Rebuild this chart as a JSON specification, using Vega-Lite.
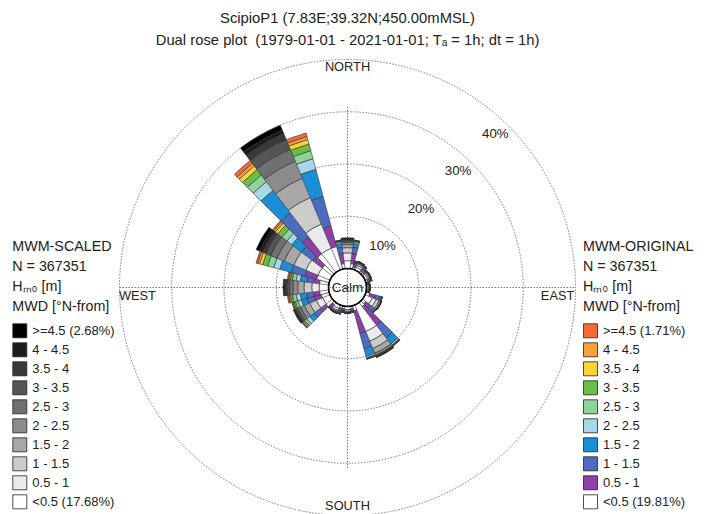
{
"$schema":"https://vega.github.io/schema/vega-lite/v6.json",
"autosize":"none",
"width":456,"height":452,
"padding":{"left":119.5,"top":61.5,"right":130.5,"bottom":0},
"background":"white",
"config":{"font":"Liberation Sans","view":{"stroke":null}},
"title":{"text":["ScipioP1 (7.83E;39.32N;450.00mMSL)","Dual rose plot \u00a0(1979-01-01 - 2021-01-01; Tₐ = 1h; dt = 1h)"],"fontSize":14.8,"fontWeight":"normal","color":"#222","anchor":"middle","frame":"group","offset":10,"lineHeight":22},
"datasets":{
"grid":[{"r":10},{"r":20},{"r":30},{"r":40}],
"axes":[{"x":-40,"x2":40,"y":0,"y2":0},{"x":0,"x2":0,"y":-40,"y2":40}],
"calm":[{"r":0,"t":"Calm"}],
"pct":[{"t":"10%","a":40,"r":6.8},{"t":"20%","a":43,"r":17},{"t":"30%","a":43.5,"r":27.1},{"t":"40%","a":44,"r":37.1}],
"dirs":[{"t":"NORTH","a":0,"r":38.5},{"t":"SOUTH","a":180,"r":38.2},{"t":"WEST","a":267.7,"r":36.6},{"t":"EAST","a":92.3,"r":36.6}],
"o":[
{"t0":-15,"t1":15,"b":"<0.5 (19.81%)","r0":0,"r1":1.0},
{"t0":-15,"t1":15,"b":"0.5 - 1","r0":1.0,"r1":3.0},
{"t0":-15,"t1":15,"b":"1 - 1.5","r0":3.0,"r1":4.2},
{"t0":-15,"t1":15,"b":"1.5 - 2","r0":4.2,"r1":4.9},
{"t0":-15,"t1":15,"b":"2 - 2.5","r0":4.9,"r1":5.2},
{"t0":-15,"t1":15,"b":"2.5 - 3","r0":5.2,"r1":5.3},
{"t0":-15,"t1":15,"b":"3 - 3.5","r0":5.3,"r1":5.4},
{"t0":-15,"t1":15,"b":"3.5 - 4","r0":5.4,"r1":5.45},
{"t0":-15,"t1":15,"b":"4 - 4.5","r0":5.45,"r1":5.5},
{"t0":-15,"t1":15,"b":">=4.5 (1.71%)","r0":5.5,"r1":5.55},
{"t0":15,"t1":45,"b":"<0.5 (19.81%)","r0":0,"r1":0.4},
{"t0":15,"t1":45,"b":"0.5 - 1","r0":0.4,"r1":1.0},
{"t0":15,"t1":45,"b":"1 - 1.5","r0":1.0,"r1":1.3},
{"t0":15,"t1":45,"b":"1.5 - 2","r0":1.3,"r1":1.45},
{"t0":15,"t1":45,"b":"2 - 2.5","r0":1.45,"r1":1.5},
{"t0":15,"t1":45,"b":"2.5 - 3","r0":1.5,"r1":1.55},
{"t0":15,"t1":45,"b":"3 - 3.5","r0":1.55,"r1":1.58},
{"t0":15,"t1":45,"b":"3.5 - 4","r0":1.58,"r1":1.6},
{"t0":15,"t1":45,"b":"4 - 4.5","r0":1.6,"r1":1.62},
{"t0":15,"t1":45,"b":">=4.5 (1.71%)","r0":1.62,"r1":1.65},
{"t0":45,"t1":75,"b":"<0.5 (19.81%)","r0":0,"r1":0.4},
{"t0":45,"t1":75,"b":"0.5 - 1","r0":0.4,"r1":0.8},
{"t0":45,"t1":75,"b":"1 - 1.5","r0":0.8,"r1":1.0},
{"t0":45,"t1":75,"b":"1.5 - 2","r0":1.0,"r1":1.1},
{"t0":45,"t1":75,"b":"2 - 2.5","r0":1.1,"r1":1.13},
{"t0":45,"t1":75,"b":"2.5 - 3","r0":1.13,"r1":1.16},
{"t0":45,"t1":75,"b":"3 - 3.5","r0":1.16,"r1":1.18},
{"t0":45,"t1":75,"b":"3.5 - 4","r0":1.18,"r1":1.2},
{"t0":45,"t1":75,"b":"4 - 4.5","r0":1.2,"r1":1.22},
{"t0":45,"t1":75,"b":">=4.5 (1.71%)","r0":1.22,"r1":1.25},
{"t0":75,"t1":105,"b":"<0.5 (19.81%)","r0":0,"r1":0.2},
{"t0":75,"t1":105,"b":"0.5 - 1","r0":0.2,"r1":0.45},
{"t0":75,"t1":105,"b":"1 - 1.5","r0":0.45,"r1":0.55},
{"t0":75,"t1":105,"b":"1.5 - 2","r0":0.55,"r1":0.6},
{"t0":75,"t1":105,"b":"2 - 2.5","r0":0.6,"r1":0.62},
{"t0":75,"t1":105,"b":"2.5 - 3","r0":0.62,"r1":0.64},
{"t0":75,"t1":105,"b":"3 - 3.5","r0":0.64,"r1":0.66},
{"t0":75,"t1":105,"b":"3.5 - 4","r0":0.66,"r1":0.68},
{"t0":75,"t1":105,"b":"4 - 4.5","r0":0.68,"r1":0.7},
{"t0":75,"t1":105,"b":">=4.5 (1.71%)","r0":0.7,"r1":0.72},
{"t0":105,"t1":135,"b":"<0.5 (19.81%)","r0":0,"r1":0.8},
{"t0":105,"t1":135,"b":"0.5 - 1","r0":0.8,"r1":2.0},
{"t0":105,"t1":135,"b":"1 - 1.5","r0":2.0,"r1":2.8},
{"t0":105,"t1":135,"b":"1.5 - 2","r0":2.8,"r1":3.1},
{"t0":105,"t1":135,"b":"2 - 2.5","r0":3.1,"r1":3.2},
{"t0":105,"t1":135,"b":"2.5 - 3","r0":3.2,"r1":3.22},
{"t0":105,"t1":135,"b":"3 - 3.5","r0":3.22,"r1":3.24},
{"t0":105,"t1":135,"b":"3.5 - 4","r0":3.24,"r1":3.26},
{"t0":105,"t1":135,"b":"4 - 4.5","r0":3.26,"r1":3.28},
{"t0":105,"t1":135,"b":">=4.5 (1.71%)","r0":3.28,"r1":3.3},
{"t0":135,"t1":165,"b":"<0.5 (19.81%)","r0":0,"r1":1.0},
{"t0":135,"t1":165,"b":"0.5 - 1","r0":1.0,"r1":5.5},
{"t0":135,"t1":165,"b":"1 - 1.5","r0":5.5,"r1":8.5},
{"t0":135,"t1":165,"b":"1.5 - 2","r0":8.5,"r1":10.0},
{"t0":135,"t1":165,"b":"2 - 2.5","r0":10.0,"r1":10.3},
{"t0":135,"t1":165,"b":"2.5 - 3","r0":10.3,"r1":10.4},
{"t0":135,"t1":165,"b":"3 - 3.5","r0":10.4,"r1":10.45},
{"t0":135,"t1":165,"b":"3.5 - 4","r0":10.45,"r1":10.5},
{"t0":135,"t1":165,"b":"4 - 4.5","r0":10.5,"r1":10.55},
{"t0":135,"t1":165,"b":">=4.5 (1.71%)","r0":10.55,"r1":10.6},
{"t0":165,"t1":195,"b":"<0.5 (19.81%)","r0":0,"r1":0.5},
{"t0":165,"t1":195,"b":"0.5 - 1","r0":0.5,"r1":0.85},
{"t0":165,"t1":195,"b":"1 - 1.5","r0":0.85,"r1":1.0},
{"t0":165,"t1":195,"b":"1.5 - 2","r0":1.0,"r1":1.1},
{"t0":165,"t1":195,"b":"2 - 2.5","r0":1.1,"r1":1.15},
{"t0":165,"t1":195,"b":"2.5 - 3","r0":1.15,"r1":1.18},
{"t0":165,"t1":195,"b":"3 - 3.5","r0":1.18,"r1":1.2},
{"t0":165,"t1":195,"b":"3.5 - 4","r0":1.2,"r1":1.22},
{"t0":165,"t1":195,"b":"4 - 4.5","r0":1.22,"r1":1.24},
{"t0":165,"t1":195,"b":">=4.5 (1.71%)","r0":1.24,"r1":1.26},
{"t0":195,"t1":225,"b":"<0.5 (19.81%)","r0":0,"r1":0.5},
{"t0":195,"t1":225,"b":"0.5 - 1","r0":0.5,"r1":1.0},
{"t0":195,"t1":225,"b":"1 - 1.5","r0":1.0,"r1":1.3},
{"t0":195,"t1":225,"b":"1.5 - 2","r0":1.3,"r1":1.45},
{"t0":195,"t1":225,"b":"2 - 2.5","r0":1.45,"r1":1.5},
{"t0":195,"t1":225,"b":"2.5 - 3","r0":1.5,"r1":1.55},
{"t0":195,"t1":225,"b":"3 - 3.5","r0":1.55,"r1":1.6},
{"t0":195,"t1":225,"b":"3.5 - 4","r0":1.6,"r1":1.63},
{"t0":195,"t1":225,"b":"4 - 4.5","r0":1.63,"r1":1.66},
{"t0":195,"t1":225,"b":">=4.5 (1.71%)","r0":1.66,"r1":1.7},
{"t0":225,"t1":255,"b":"<0.5 (19.81%)","r0":0,"r1":1.6},
{"t0":225,"t1":255,"b":"0.5 - 1","r0":1.6,"r1":3.0},
{"t0":225,"t1":255,"b":"1 - 1.5","r0":3.0,"r1":4.4},
{"t0":225,"t1":255,"b":"1.5 - 2","r0":4.4,"r1":5.5},
{"t0":225,"t1":255,"b":"2 - 2.5","r0":5.5,"r1":6.2},
{"t0":225,"t1":255,"b":"2.5 - 3","r0":6.2,"r1":6.7},
{"t0":225,"t1":255,"b":"3 - 3.5","r0":6.7,"r1":7.0},
{"t0":225,"t1":255,"b":"3.5 - 4","r0":7.0,"r1":7.2},
{"t0":225,"t1":255,"b":"4 - 4.5","r0":7.2,"r1":7.3},
{"t0":225,"t1":255,"b":">=4.5 (1.71%)","r0":7.3,"r1":7.4},
{"t0":255,"t1":285,"b":"<0.5 (19.81%)","r0":0,"r1":1.8},
{"t0":255,"t1":285,"b":"0.5 - 1","r0":1.8,"r1":3.0},
{"t0":255,"t1":285,"b":"1 - 1.5","r0":3.0,"r1":4.3},
{"t0":255,"t1":285,"b":"1.5 - 2","r0":4.3,"r1":5.5},
{"t0":255,"t1":285,"b":"2 - 2.5","r0":5.5,"r1":6.3},
{"t0":255,"t1":285,"b":"2.5 - 3","r0":6.3,"r1":7.0},
{"t0":255,"t1":285,"b":"3 - 3.5","r0":7.0,"r1":7.4},
{"t0":255,"t1":285,"b":"3.5 - 4","r0":7.4,"r1":7.6},
{"t0":255,"t1":285,"b":"4 - 4.5","r0":7.6,"r1":7.8},
{"t0":255,"t1":285,"b":">=4.5 (1.71%)","r0":7.8,"r1":8.0},
{"t0":285,"t1":315,"b":"<0.5 (19.81%)","r0":0,"r1":2.5},
{"t0":285,"t1":315,"b":"0.5 - 1","r0":2.5,"r1":4.8},
{"t0":285,"t1":315,"b":"1 - 1.5","r0":4.8,"r1":7.5},
{"t0":285,"t1":315,"b":"1.5 - 2","r0":7.5,"r1":9.8},
{"t0":285,"t1":315,"b":"2 - 2.5","r0":9.8,"r1":11.0},
{"t0":285,"t1":315,"b":"2.5 - 3","r0":11.0,"r1":12.2},
{"t0":285,"t1":315,"b":"3 - 3.5","r0":12.2,"r1":13.2},
{"t0":285,"t1":315,"b":"3.5 - 4","r0":13.2,"r1":13.8},
{"t0":285,"t1":315,"b":"4 - 4.5","r0":13.8,"r1":14.2},
{"t0":285,"t1":315,"b":">=4.5 (1.71%)","r0":14.2,"r1":14.5},
{"t0":315,"t1":345,"b":"<0.5 (19.81%)","r0":0,"r1":4.5},
{"t0":315,"t1":345,"b":"0.5 - 1","r0":4.5,"r1":8.6},
{"t0":315,"t1":345,"b":"1 - 1.5","r0":8.6,"r1":14.4},
{"t0":315,"t1":345,"b":"1.5 - 2","r0":14.4,"r1":19.8},
{"t0":315,"t1":345,"b":"2 - 2.5","r0":19.8,"r1":21.9},
{"t0":315,"t1":345,"b":"2.5 - 3","r0":21.9,"r1":23.5},
{"t0":315,"t1":345,"b":"3 - 3.5","r0":23.5,"r1":24.8},
{"t0":315,"t1":345,"b":"3.5 - 4","r0":24.8,"r1":25.7},
{"t0":315,"t1":345,"b":"4 - 4.5","r0":25.7,"r1":26.3},
{"t0":315,"t1":345,"b":">=4.5 (1.71%)","r0":26.3,"r1":27.0}
],
"s":[
{"t0":-7.5,"t1":7.5,"b":"<0.5 (17.68%)","r0":0,"r1":1.5},
{"t0":-7.5,"t1":7.5,"b":"0.5 - 1","r0":1.5,"r1":3.0},
{"t0":-7.5,"t1":7.5,"b":"1 - 1.5","r0":3.0,"r1":4.0},
{"t0":-7.5,"t1":7.5,"b":"1.5 - 2","r0":4.0,"r1":4.6},
{"t0":-7.5,"t1":7.5,"b":"2 - 2.5","r0":4.6,"r1":5.0},
{"t0":-7.5,"t1":7.5,"b":"2.5 - 3","r0":5.0,"r1":5.3},
{"t0":-7.5,"t1":7.5,"b":"3 - 3.5","r0":5.3,"r1":5.5},
{"t0":-7.5,"t1":7.5,"b":"3.5 - 4","r0":5.5,"r1":5.65},
{"t0":-7.5,"t1":7.5,"b":"4 - 4.5","r0":5.65,"r1":5.75},
{"t0":-7.5,"t1":7.5,"b":">=4.5 (2.68%)","r0":5.75,"r1":5.9},
{"t0":22.5,"t1":37.5,"b":"<0.5 (17.68%)","r0":0,"r1":0.6},
{"t0":22.5,"t1":37.5,"b":"0.5 - 1","r0":0.6,"r1":1.0},
{"t0":22.5,"t1":37.5,"b":"1 - 1.5","r0":1.0,"r1":1.3},
{"t0":22.5,"t1":37.5,"b":"1.5 - 2","r0":1.3,"r1":1.5},
{"t0":22.5,"t1":37.5,"b":"2 - 2.5","r0":1.5,"r1":1.6},
{"t0":22.5,"t1":37.5,"b":"2.5 - 3","r0":1.6,"r1":1.65},
{"t0":22.5,"t1":37.5,"b":"3 - 3.5","r0":1.65,"r1":1.7},
{"t0":22.5,"t1":37.5,"b":"3.5 - 4","r0":1.7,"r1":1.73},
{"t0":22.5,"t1":37.5,"b":"4 - 4.5","r0":1.73,"r1":1.76},
{"t0":22.5,"t1":37.5,"b":">=4.5 (2.68%)","r0":1.76,"r1":1.8},
{"t0":52.5,"t1":67.5,"b":"<0.5 (17.68%)","r0":0,"r1":0.5},
{"t0":52.5,"t1":67.5,"b":"0.5 - 1","r0":0.5,"r1":0.8},
{"t0":52.5,"t1":67.5,"b":"1 - 1.5","r0":0.8,"r1":1.0},
{"t0":52.5,"t1":67.5,"b":"1.5 - 2","r0":1.0,"r1":1.1},
{"t0":52.5,"t1":67.5,"b":"2 - 2.5","r0":1.1,"r1":1.15},
{"t0":52.5,"t1":67.5,"b":"2.5 - 3","r0":1.15,"r1":1.2},
{"t0":52.5,"t1":67.5,"b":"3 - 3.5","r0":1.2,"r1":1.23},
{"t0":52.5,"t1":67.5,"b":"3.5 - 4","r0":1.23,"r1":1.26},
{"t0":52.5,"t1":67.5,"b":"4 - 4.5","r0":1.26,"r1":1.28},
{"t0":52.5,"t1":67.5,"b":">=4.5 (2.68%)","r0":1.28,"r1":1.3},
{"t0":82.5,"t1":97.5,"b":"<0.5 (17.68%)","r0":0,"r1":0.3},
{"t0":82.5,"t1":97.5,"b":"0.5 - 1","r0":0.3,"r1":0.45},
{"t0":82.5,"t1":97.5,"b":"1 - 1.5","r0":0.45,"r1":0.55},
{"t0":82.5,"t1":97.5,"b":"1.5 - 2","r0":0.55,"r1":0.6},
{"t0":82.5,"t1":97.5,"b":"2 - 2.5","r0":0.6,"r1":0.63},
{"t0":82.5,"t1":97.5,"b":"2.5 - 3","r0":0.63,"r1":0.66},
{"t0":82.5,"t1":97.5,"b":"3 - 3.5","r0":0.66,"r1":0.68},
{"t0":82.5,"t1":97.5,"b":"3.5 - 4","r0":0.68,"r1":0.7},
{"t0":82.5,"t1":97.5,"b":"4 - 4.5","r0":0.7,"r1":0.72},
{"t0":82.5,"t1":97.5,"b":">=4.5 (2.68%)","r0":0.72,"r1":0.75},
{"t0":112.5,"t1":127.5,"b":"<0.5 (17.68%)","r0":0,"r1":1.5},
{"t0":112.5,"t1":127.5,"b":"0.5 - 1","r0":1.5,"r1":2.3},
{"t0":112.5,"t1":127.5,"b":"1 - 1.5","r0":2.3,"r1":2.9},
{"t0":112.5,"t1":127.5,"b":"1.5 - 2","r0":2.9,"r1":3.2},
{"t0":112.5,"t1":127.5,"b":"2 - 2.5","r0":3.2,"r1":3.3},
{"t0":112.5,"t1":127.5,"b":"2.5 - 3","r0":3.3,"r1":3.35},
{"t0":112.5,"t1":127.5,"b":"3 - 3.5","r0":3.35,"r1":3.38},
{"t0":112.5,"t1":127.5,"b":"3.5 - 4","r0":3.38,"r1":3.4},
{"t0":112.5,"t1":127.5,"b":"4 - 4.5","r0":3.4,"r1":3.42},
{"t0":112.5,"t1":127.5,"b":">=4.5 (2.68%)","r0":3.42,"r1":3.45},
{"t0":142.5,"t1":157.5,"b":"<0.5 (17.68%)","r0":0,"r1":5.5},
{"t0":142.5,"t1":157.5,"b":"0.5 - 1","r0":5.5,"r1":7.5},
{"t0":142.5,"t1":157.5,"b":"1 - 1.5","r0":7.5,"r1":9.0},
{"t0":142.5,"t1":157.5,"b":"1.5 - 2","r0":9.0,"r1":10.0},
{"t0":142.5,"t1":157.5,"b":"2 - 2.5","r0":10.0,"r1":10.4},
{"t0":142.5,"t1":157.5,"b":"2.5 - 3","r0":10.4,"r1":10.6},
{"t0":142.5,"t1":157.5,"b":"3 - 3.5","r0":10.6,"r1":10.7},
{"t0":142.5,"t1":157.5,"b":"3.5 - 4","r0":10.7,"r1":10.75},
{"t0":142.5,"t1":157.5,"b":"4 - 4.5","r0":10.75,"r1":10.8},
{"t0":142.5,"t1":157.5,"b":">=4.5 (2.68%)","r0":10.8,"r1":10.9},
{"t0":172.5,"t1":187.5,"b":"<0.5 (17.68%)","r0":0,"r1":0.6},
{"t0":172.5,"t1":187.5,"b":"0.5 - 1","r0":0.6,"r1":0.9},
{"t0":172.5,"t1":187.5,"b":"1 - 1.5","r0":0.9,"r1":1.05},
{"t0":172.5,"t1":187.5,"b":"1.5 - 2","r0":1.05,"r1":1.15},
{"t0":172.5,"t1":187.5,"b":"2 - 2.5","r0":1.15,"r1":1.2},
{"t0":172.5,"t1":187.5,"b":"2.5 - 3","r0":1.2,"r1":1.23},
{"t0":172.5,"t1":187.5,"b":"3 - 3.5","r0":1.23,"r1":1.25},
{"t0":172.5,"t1":187.5,"b":"3.5 - 4","r0":1.25,"r1":1.27},
{"t0":172.5,"t1":187.5,"b":"4 - 4.5","r0":1.27,"r1":1.29},
{"t0":172.5,"t1":187.5,"b":">=4.5 (2.68%)","r0":1.29,"r1":1.32},
{"t0":202.5,"t1":217.5,"b":"<0.5 (17.68%)","r0":0,"r1":0.7},
{"t0":202.5,"t1":217.5,"b":"0.5 - 1","r0":0.7,"r1":1.1},
{"t0":202.5,"t1":217.5,"b":"1 - 1.5","r0":1.1,"r1":1.35},
{"t0":202.5,"t1":217.5,"b":"1.5 - 2","r0":1.35,"r1":1.5},
{"t0":202.5,"t1":217.5,"b":"2 - 2.5","r0":1.5,"r1":1.58},
{"t0":202.5,"t1":217.5,"b":"2.5 - 3","r0":1.58,"r1":1.63},
{"t0":202.5,"t1":217.5,"b":"3 - 3.5","r0":1.63,"r1":1.67},
{"t0":202.5,"t1":217.5,"b":"3.5 - 4","r0":1.67,"r1":1.7},
{"t0":202.5,"t1":217.5,"b":"4 - 4.5","r0":1.7,"r1":1.73},
{"t0":202.5,"t1":217.5,"b":">=4.5 (2.68%)","r0":1.73,"r1":1.78},
{"t0":232.5,"t1":247.5,"b":"<0.5 (17.68%)","r0":0,"r1":1.5},
{"t0":232.5,"t1":247.5,"b":"0.5 - 1","r0":1.5,"r1":2.8},
{"t0":232.5,"t1":247.5,"b":"1 - 1.5","r0":2.8,"r1":4.2},
{"t0":232.5,"t1":247.5,"b":"1.5 - 2","r0":4.2,"r1":5.3},
{"t0":232.5,"t1":247.5,"b":"2 - 2.5","r0":5.3,"r1":6.1},
{"t0":232.5,"t1":247.5,"b":"2.5 - 3","r0":6.1,"r1":6.7},
{"t0":232.5,"t1":247.5,"b":"3 - 3.5","r0":6.7,"r1":7.1},
{"t0":232.5,"t1":247.5,"b":"3.5 - 4","r0":7.1,"r1":7.3},
{"t0":232.5,"t1":247.5,"b":"4 - 4.5","r0":7.3,"r1":7.45},
{"t0":232.5,"t1":247.5,"b":">=4.5 (2.68%)","r0":7.45,"r1":7.6},
{"t0":262.5,"t1":277.5,"b":"<0.5 (17.68%)","r0":0,"r1":1.8},
{"t0":262.5,"t1":277.5,"b":"0.5 - 1","r0":1.8,"r1":3.2},
{"t0":262.5,"t1":277.5,"b":"1 - 1.5","r0":3.2,"r1":4.7},
{"t0":262.5,"t1":277.5,"b":"1.5 - 2","r0":4.7,"r1":5.9},
{"t0":262.5,"t1":277.5,"b":"2 - 2.5","r0":5.9,"r1":6.8},
{"t0":262.5,"t1":277.5,"b":"2.5 - 3","r0":6.8,"r1":7.5},
{"t0":262.5,"t1":277.5,"b":"3 - 3.5","r0":7.5,"r1":8.0},
{"t0":262.5,"t1":277.5,"b":"3.5 - 4","r0":8.0,"r1":8.3},
{"t0":262.5,"t1":277.5,"b":"4 - 4.5","r0":8.3,"r1":8.5},
{"t0":262.5,"t1":277.5,"b":">=4.5 (2.68%)","r0":8.5,"r1":8.7},
{"t0":292.5,"t1":307.5,"b":"<0.5 (17.68%)","r0":0,"r1":2.5},
{"t0":292.5,"t1":307.5,"b":"0.5 - 1","r0":2.5,"r1":5.0},
{"t0":292.5,"t1":307.5,"b":"1 - 1.5","r0":5.0,"r1":7.5},
{"t0":292.5,"t1":307.5,"b":"1.5 - 2","r0":7.5,"r1":9.5},
{"t0":292.5,"t1":307.5,"b":"2 - 2.5","r0":9.5,"r1":11.0},
{"t0":292.5,"t1":307.5,"b":"2.5 - 3","r0":11.0,"r1":12.3},
{"t0":292.5,"t1":307.5,"b":"3 - 3.5","r0":12.3,"r1":13.3},
{"t0":292.5,"t1":307.5,"b":"3.5 - 4","r0":13.3,"r1":14.0},
{"t0":292.5,"t1":307.5,"b":"4 - 4.5","r0":14.0,"r1":14.6},
{"t0":292.5,"t1":307.5,"b":">=4.5 (2.68%)","r0":14.6,"r1":15.3},
{"t0":322.5,"t1":337.5,"b":"<0.5 (17.68%)","r0":0,"r1":4.5},
{"t0":322.5,"t1":337.5,"b":"0.5 - 1","r0":4.5,"r1":9.5},
{"t0":322.5,"t1":337.5,"b":"1 - 1.5","r0":9.5,"r1":15.0},
{"t0":322.5,"t1":337.5,"b":"1.5 - 2","r0":15.0,"r1":19.0},
{"t0":322.5,"t1":337.5,"b":"2 - 2.5","r0":19.0,"r1":22.5},
{"t0":322.5,"t1":337.5,"b":"2.5 - 3","r0":22.5,"r1":25.0},
{"t0":322.5,"t1":337.5,"b":"3 - 3.5","r0":25.0,"r1":27.0},
{"t0":322.5,"t1":337.5,"b":"3.5 - 4","r0":27.0,"r1":28.2},
{"t0":322.5,"t1":337.5,"b":"4 - 4.5","r0":28.2,"r1":29.0},
{"t0":322.5,"t1":337.5,"b":">=4.5 (2.68%)","r0":29.0,"r1":30.0}
]
},
"layer":[
{"data":{"name":"grid"},"mark":{"type":"arc","filled":false,"stroke":"#777","strokeWidth":1,"strokeDash":[1.5,1.5]},
 "encoding":{"theta":{"datum":0,"type":"quantitative","scale":{"domain":[0,360],"range":[0,6.283185307179586]}},"theta2":{"datum":360},
 "radius":{"field":"r","type":"quantitative","stack":null,"scale":{"type":"linear","domain":[0,40],"range":[19,228],"zero":false}}}},
{"data":{"name":"axes"},"mark":{"type":"rule","stroke":"#777","strokeWidth":1,"strokeDash":[1.5,1.5]},
 "encoding":{"x":{"field":"x","type":"quantitative","scale":{"domain":[-40,40]},"axis":null},"x2":{"field":"x2"},
 "y":{"field":"y","type":"quantitative","scale":{"domain":[-40.354,40.354]},"axis":null},"y2":{"field":"y2"}}},
{"data":{"name":"o"},"mark":{"type":"arc","stroke":"#333","strokeWidth":0.6},
 "encoding":{"theta":{"field":"t0","type":"quantitative","scale":{"domain":[0,360],"range":[0,6.283185307179586]}},"theta2":{"field":"t1"},
 "radius":{"field":"r1","type":"quantitative","stack":null,"scale":{"type":"linear","domain":[0,40],"range":[19,228],"zero":false}},"radius2":{"field":"r0"},
 "fill":{"field":"b","type":"nominal","scale":{"domain":[">=4.5 (1.71%)","4 - 4.5","3.5 - 4","3 - 3.5","2.5 - 3","2 - 2.5","1.5 - 2","1 - 1.5","0.5 - 1","<0.5 (19.81%)"],"range":["#F26B38","#F6A13A","#F9D436","#6BBE45","#8DD39B","#A6D8E8","#1B8ED8","#4B6CC1","#8E3FA8","#FFFFFF"]},
 "legend":{"orient":"none","legendX":463.5,"legendY":178.5,"title":["MWM-ORIGINAL","N = 367351","Hₘ₀ [m]","MWD [°N-from]"],"titleFontSize":14.3,"titleFontWeight":"normal","titleColor":"#222","titleLineHeight":20,"titlePadding":9,"labelFontSize":13,"labelColor":"#222","symbolType":"square","symbolSize":196,"symbolStrokeColor":"#222","symbolStrokeWidth":0.8,"rowPadding":0,"labelOffset":5,"padding":0}}}},
{"data":{"name":"s"},"mark":{"type":"arc","stroke":"#333","strokeWidth":0.6},
 "encoding":{"theta":{"field":"t0","type":"quantitative","scale":{"domain":[0,360],"range":[0,6.283185307179586]}},"theta2":{"field":"t1"},
 "radius":{"field":"r1","type":"quantitative","stack":null,"scale":{"type":"linear","domain":[0,40],"range":[19,228],"zero":false}},"radius2":{"field":"r0"},
 "fill":{"field":"b","type":"nominal","scale":{"domain":[">=4.5 (2.68%)","4 - 4.5","3.5 - 4","3 - 3.5","2.5 - 3","2 - 2.5","1.5 - 2","1 - 1.5","0.5 - 1","<0.5 (17.68%)"],"range":["#000000","#1c1c1c","#393939","#555555","#707070","#8c8c8c","#a8a8a8","#cccccc","#ebebeb","#ffffff"]},
 "legend":{"orient":"none","legendX":-107.2,"legendY":178.5,"title":["MWM-SCALED","N = 367351","Hₘ₀ [m]","MWD [°N-from]"],"titleFontSize":14.3,"titleFontWeight":"normal","titleColor":"#222","titleLineHeight":20,"titlePadding":9,"labelFontSize":13,"labelColor":"#222","symbolType":"square","symbolSize":196,"symbolStrokeColor":"#222","symbolStrokeWidth":0.8,"rowPadding":0,"labelOffset":5,"padding":0}}}},
{"data":{"name":"calm"},"mark":{"type":"arc","fill":"white","stroke":"black","strokeWidth":1.6},
 "encoding":{"theta":{"datum":0,"type":"quantitative","scale":{"domain":[0,360],"range":[0,6.283185307179586]}},"theta2":{"datum":360},
 "radius":{"field":"r","type":"quantitative","stack":null,"scale":{"type":"linear","domain":[0,40],"range":[19,228],"zero":false}}}},
{"data":{"name":"calm"},"mark":{"type":"text","fontSize":13.6,"color":"#222"},
 "encoding":{"x":{"datum":0,"type":"quantitative"},"y":{"datum":0,"type":"quantitative"},"text":{"field":"t"}}},
{"data":{"name":"pct"},"mark":{"type":"text","fontSize":13.3,"color":"#222"},
 "encoding":{"theta":{"field":"a","type":"quantitative","scale":{"domain":[0,360],"range":[0,6.283185307179586]}},
 "radius":{"field":"r","type":"quantitative","stack":null,"scale":{"type":"linear","domain":[0,40],"range":[19,228],"zero":false}},"text":{"field":"t"}}},
{"data":{"name":"dirs"},"mark":{"type":"text","fontSize":12.8,"color":"#222"},
 "encoding":{"theta":{"field":"a","type":"quantitative","scale":{"domain":[0,360],"range":[0,6.283185307179586]}},
 "radius":{"field":"r","type":"quantitative","stack":null,"scale":{"type":"linear","domain":[0,40],"range":[19,228],"zero":false}},"text":{"field":"t"}}}
],
"resolve":{"scale":{"fill":"independent"},"legend":{"fill":"independent"}}
}
